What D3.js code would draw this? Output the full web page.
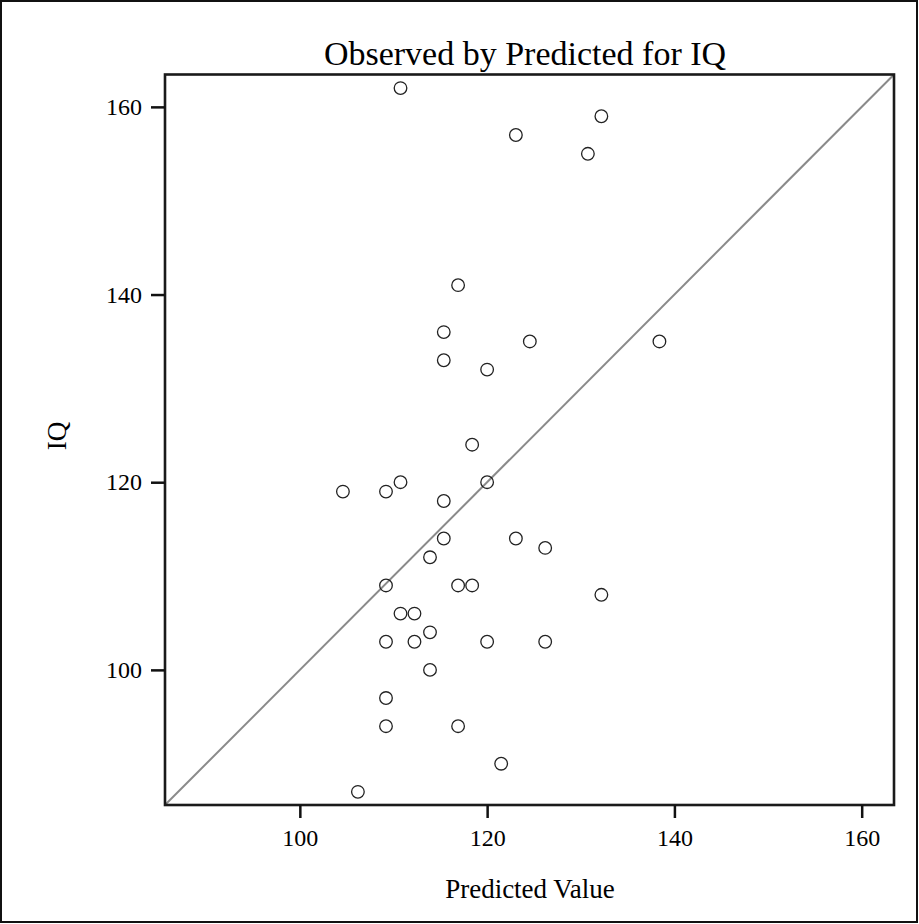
<!DOCTYPE html>
<html>
<head>
<meta charset="utf-8">
<script src="https://cdn.jsdelivr.net/npm/d3@7"></script>
<style>
  html, body { margin: 0; padding: 0; background: #fff; }
  svg { display: block; }
  text { font-family: "Liberation Serif", "DejaVu Serif", serif; fill: #000; }
</style>
</head>
<body>
<svg id="chart" width="919" height="924"></svg>
<script>
// Data
const predicted = [110.75, 132.2, 123.07, 130.76, 116.9, 115.37, 124.56, 138.4,
  115.37, 120.0, 118.4, 104.6, 109.2, 110.75, 120.0, 115.37, 115.37, 123.07,
  126.2, 113.9, 109.2, 116.9, 118.4, 132.2, 110.75, 112.24, 113.9,
  109.2, 112.24, 120.0, 126.2, 113.9, 109.2, 109.2, 116.9, 121.5, 106.2];
const observedIQ = [162, 159, 157, 155, 141, 136, 135, 135,
  133, 132, 124, 119, 119, 120, 120, 118, 114, 114,
  113, 112, 109, 109, 109, 108, 106, 106, 104,
  103, 103, 103, 103, 100, 97, 94, 94, 90, 87];
const axisDomain = [85.6, 163.45];
const tickValues = [100, 120, 140, 160];
const titleText = "Observed by Predicted for IQ";
const xTitle = "Predicted Value";
const yTitle = "IQ";

const svg = d3.select("#chart");
const W = 919, H = 924;
const plot = { left: 165, right: 894, top: 74.5, bottom: 805 };

// outer border
svg.append("rect")
  .attr("x", 1).attr("y", 1).attr("width", W - 3).attr("height", H - 3)
  .attr("fill", "none").attr("stroke", "#111").attr("stroke-width", 2);

const x = d3.scaleLinear().domain(axisDomain).range([plot.left, plot.right]);
const y = d3.scaleLinear().domain(axisDomain).range([plot.bottom, plot.top]);

// diagonal reference line y = x
const clipId = "plotclip";
svg.append("clipPath").attr("id", clipId).append("rect")
  .attr("x", plot.left).attr("y", plot.top)
  .attr("width", plot.right - plot.left).attr("height", plot.bottom - plot.top);

svg.append("line")
  .attr("clip-path", `url(#${clipId})`)
  .attr("x1", x(axisDomain[0])).attr("y1", y(axisDomain[0]))
  .attr("x2", x(axisDomain[1])).attr("y2", y(axisDomain[1]))
  .attr("stroke", "#8a8a8a").attr("stroke-width", 2);

// points
const pts = predicted.map((p, i) => ({ p, o: observedIQ[i] }));
svg.append("g").selectAll("circle").data(pts).join("circle")
  .attr("cx", d => x(d.p)).attr("cy", d => y(d.o))
  .attr("r", 6.3)
  .attr("fill", "none").attr("stroke", "#222").attr("stroke-width", 1.3);

// frame
svg.append("rect")
  .attr("x", plot.left).attr("y", plot.top)
  .attr("width", plot.right - plot.left).attr("height", plot.bottom - plot.top)
  .attr("fill", "none").attr("stroke", "#1a1a1a").attr("stroke-width", 2.6);

// axes
const xAxis = d3.axisBottom(x).tickValues(tickValues).tickSize(13).tickPadding(11).tickSizeOuter(0);
const gx = svg.append("g").attr("transform", `translate(0,${plot.bottom})`).call(xAxis);
gx.select(".domain").remove();
gx.selectAll(".tick line").attr("stroke", "#111").attr("stroke-width", 2.5);
gx.selectAll(".tick text").attr("font-size", 24).attr("font-family", "Liberation Serif");

const yAxis = d3.axisLeft(y).tickValues(tickValues).tickSize(14).tickPadding(9).tickSizeOuter(0);
const gy = svg.append("g").attr("transform", `translate(${plot.left},0)`).call(yAxis);
gy.select(".domain").remove();
gy.selectAll(".tick line").attr("stroke", "#111").attr("stroke-width", 2.5);
gy.selectAll(".tick text").attr("font-size", 24).attr("font-family", "Liberation Serif");

// titles
svg.append("text")
  .attr("x", 525).attr("y", 65)
  .attr("text-anchor", "middle").attr("font-size", 34)
  .text(titleText);

svg.append("text")
  .attr("x", 530).attr("y", 898)
  .attr("text-anchor", "middle").attr("font-size", 27)
  .text(xTitle);

svg.append("text")
  .attr("transform", `translate(66,436) rotate(-90)`)
  .attr("text-anchor", "middle").attr("font-size", 27)
  .text(yTitle);
</script>
</body>
</html>
